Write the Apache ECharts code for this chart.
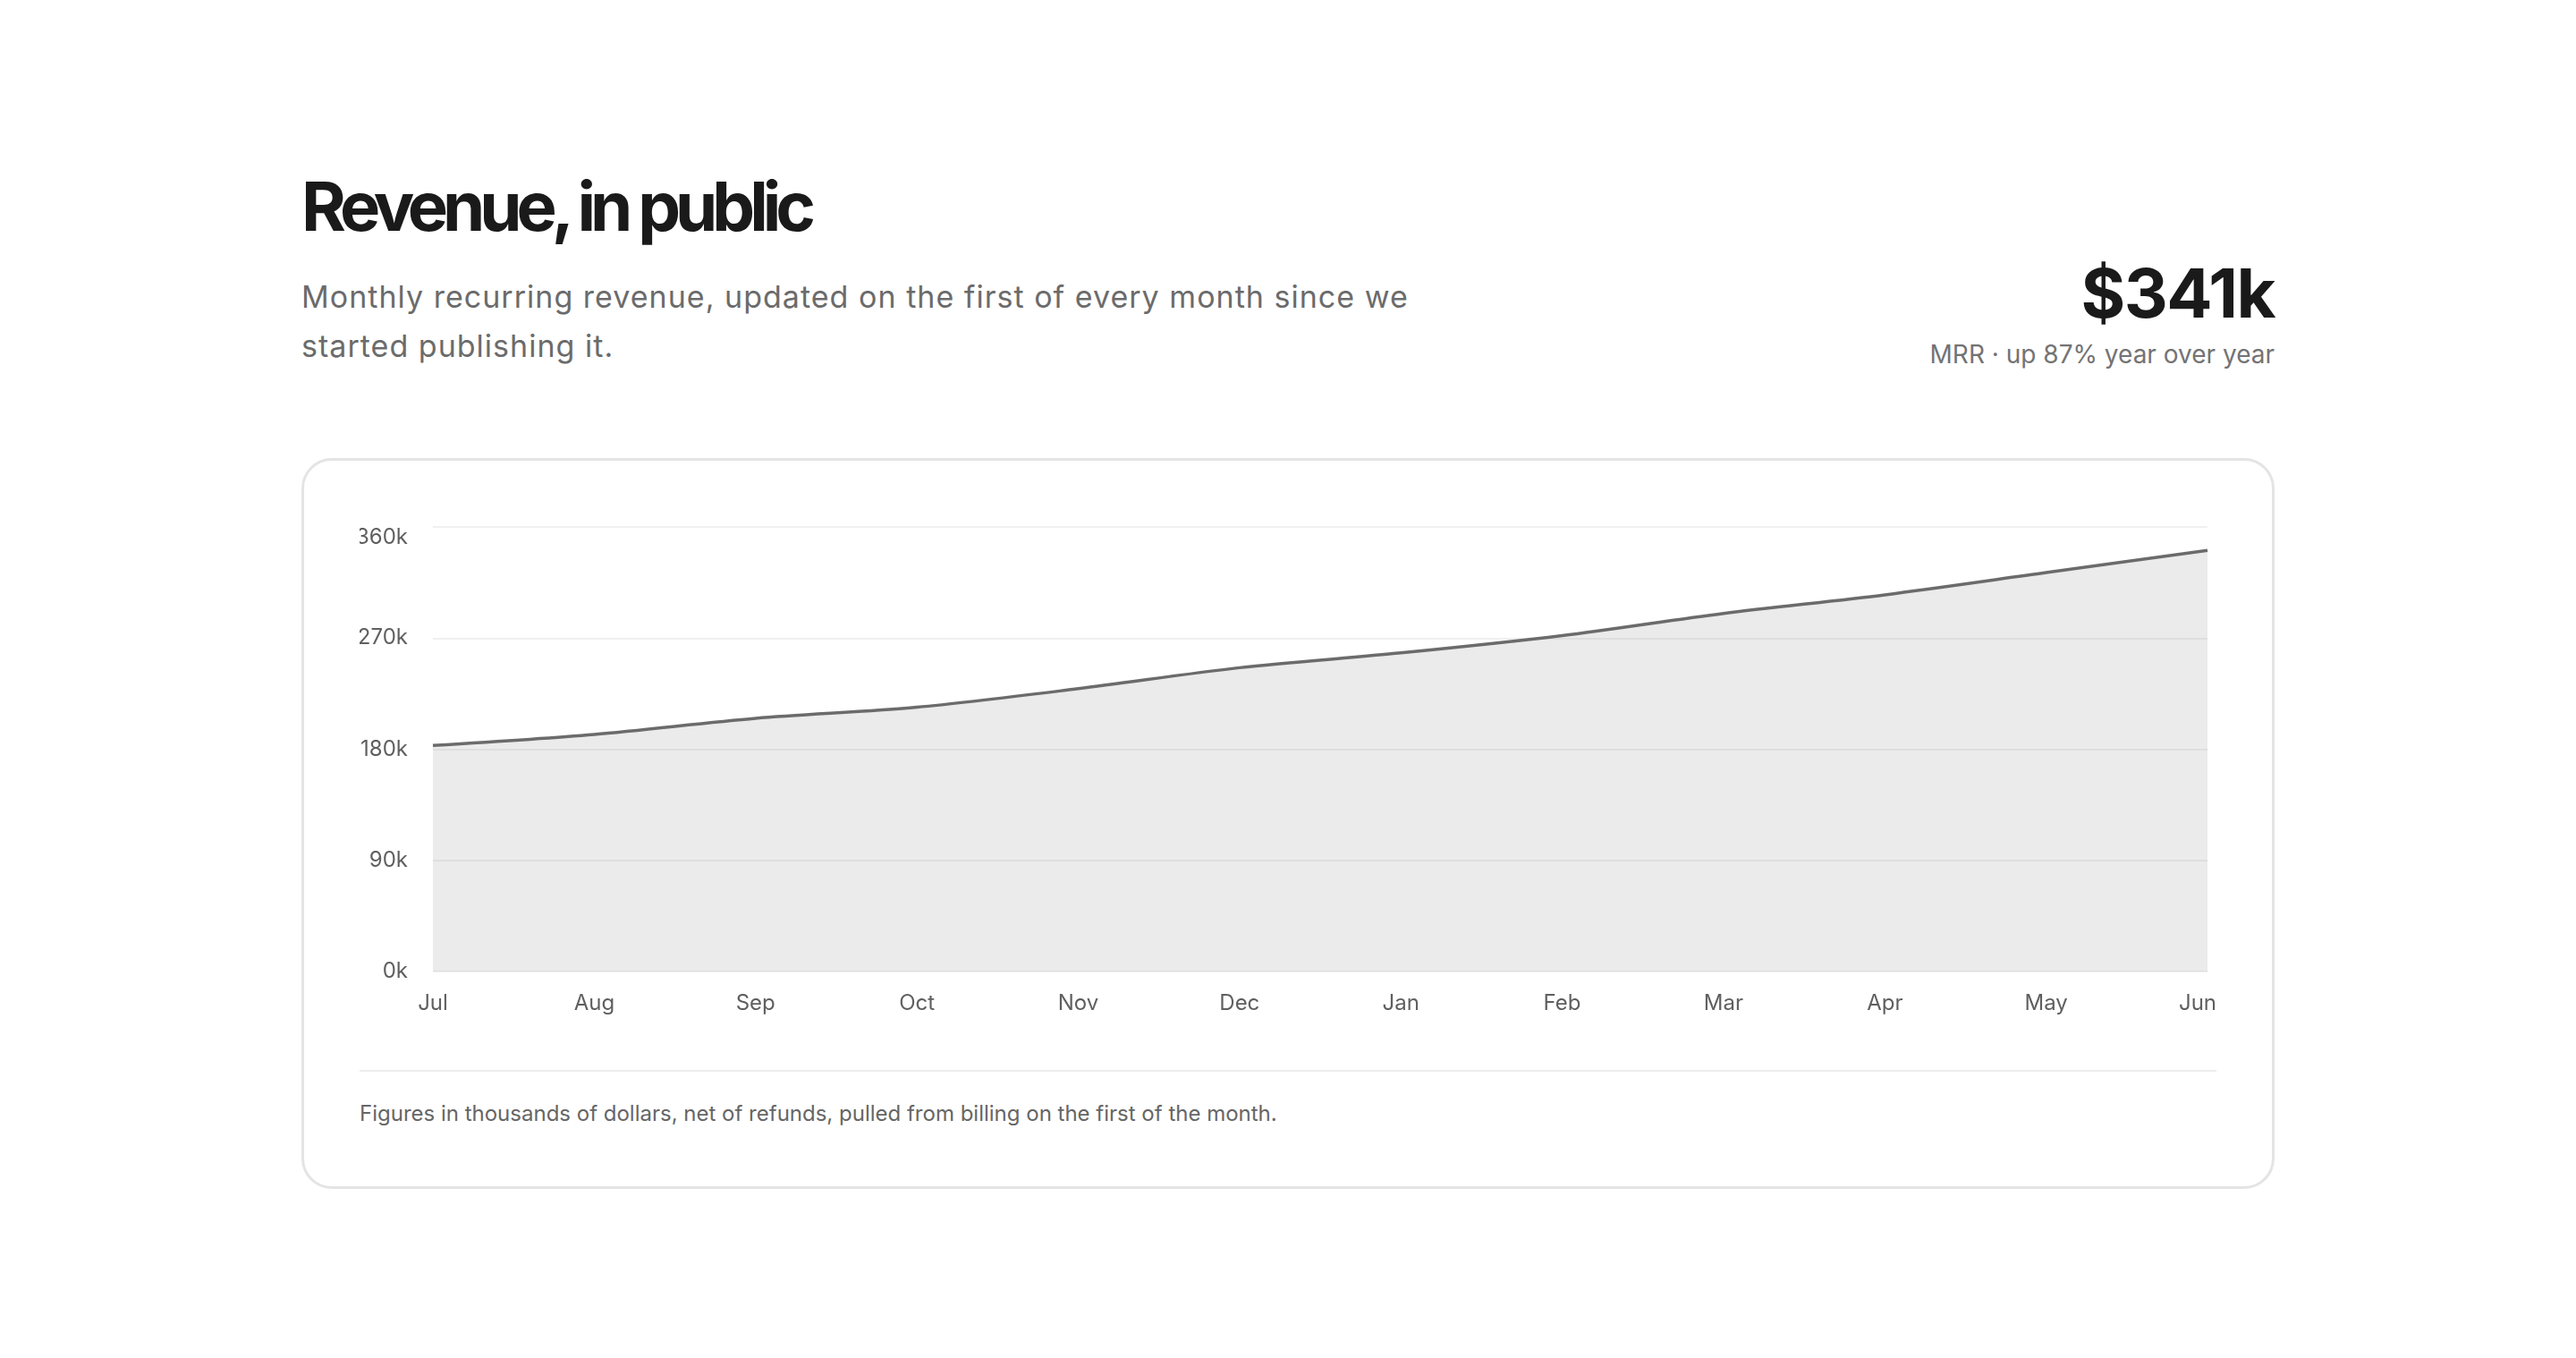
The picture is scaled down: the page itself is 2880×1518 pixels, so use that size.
<!DOCTYPE html>
<html>
<head>
<meta charset="utf-8">
<title>Revenue, in public</title>
<script src="https://cdn.jsdelivr.net/npm/echarts@6/dist/echarts.min.js"></script>
<style>
  html, body { margin: 0; background: #fff; }
  body { font-family: Inter, "Noto Sans", sans-serif; color: #1a1a1a; }
  .page { width: 2206px; margin: 0 auto; padding-top: 188px; }
  h1 { margin: 0; font-size: 76px; line-height: 84px; font-weight: 700; letter-spacing: -0.08em; }
  .head { display: flex; justify-content: space-between; align-items: flex-start; margin-top: 32px; }
  .lede { margin: 0; max-width: 1300px; font-size: 34px; line-height: 55px; letter-spacing: 0.03em; color: #6b6b6b; }
  .kpi { text-align: right; margin-top: -19px; }
  .kpi .num { font-size: 76px; line-height: 84px; font-weight: 700; letter-spacing: -0.02em; }
  .kpi .sub { margin-top: 7px; font-size: 28px; line-height: 40px; color: #737373; }
  .card { margin-top: 96px; border: 3px solid #e4e4e4; border-radius: 34px; padding: 67px 62px; }
  .chart { height: 580px; }
  .note { margin-top: 34px; border-top: 2px solid #ededed; padding-top: 32px; font-size: 24px; line-height: 29px; color: #666; }
</style>
</head>
<body>
<div class="page">
  <h1>Revenue, in public</h1>
  <div class="head">
    <p class="lede">Monthly recurring revenue, updated on the first of every month since we started publishing it.</p>
    <div class="kpi">
      <div class="num">$341k</div>
      <div class="sub">MRR · up 87% year over year</div>
    </div>
  </div>
  <div class="card">
    <div class="chart" id="mrr"></div>
    <div class="note">Figures in thousands of dollars, net of refunds, pulled from billing on the first of the month.</div>
  </div>
</div>
<script>
// data, in thousands of dollars
var months = ['Jul', 'Aug', 'Sep', 'Oct', 'Nov', 'Dec', 'Jan', 'Feb', 'Mar', 'Apr', 'May', 'Jun'];
var mrr = [183, 192, 205, 214, 229, 246, 258, 272, 290, 305, 323, 341];
var yTicks = [0, 90, 180, 270, 360];

(function () {
  var myChart = echarts.init(document.getElementById('mrr'));
  var labelColor = '#5f5f5f';

  // last month label is nudged left so it stays inside the card
  var xData = months.map(function (m, i) {
    return i === months.length - 1 ? { value: m, textStyle: { padding: [0, 22, 0, 0] } } : m;
  });

  var option = {
    animation: false,
    grid: {
      left: 82,
      right: 10,
      top: 7,
      bottom: 76,
      containLabel: false,
      // keep the plot box where it is, labels may sit outside
      outerBoundsMode: 'none'
    },
    xAxis: {
      type: 'category',
      data: xData,
      boundaryGap: false,
      axisLine: { show: false },
      axisTick: { show: false },
      axisLabel: {
        color: labelColor,
        fontFamily: 'Inter',
        fontSize: 24,
        margin: 24
      }
    },
    yAxis: {
      type: 'value',
      min: yTicks[0],
      max: yTicks[yTicks.length - 1],
      interval: yTicks[1] - yTicks[0],
      axisLine: { show: false },
      axisTick: { show: false },
      axisLabel: {
        color: labelColor,
        fontFamily: 'Inter',
        fontSize: 24,
        margin: 28,
        formatter: '{value}k',
        verticalAlignMaxLabel: 'top'
      },
      splitLine: {
        lineStyle: { color: 'rgba(0,0,0,0.06)', width: 2 }
      }
    },
    series: [
      {
        name: 'MRR',
        type: 'line',
        data: mrr,
        smooth: 0.3,
        symbol: 'none',
        lineStyle: { color: '#6b6b6b', width: 3.5 },
        areaStyle: { color: 'rgba(0,0,0,0.08)', opacity: 1 }
      }
    ]
  };

  myChart.setOption(option);
  window.addEventListener('resize', function () {
    myChart.resize();
  });
})();
</script>
</body>
</html>
